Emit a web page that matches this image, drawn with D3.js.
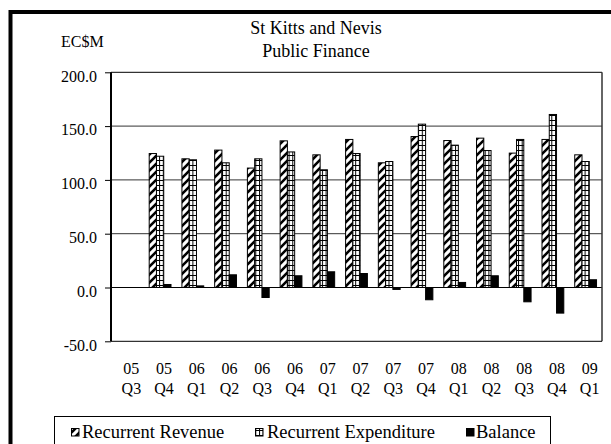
<!DOCTYPE html>
<html><head><meta charset="utf-8">
<script src="https://cdn.jsdelivr.net/npm/d3@7"></script>
<style>body{margin:0;background:#fff}svg{display:block}text{font-family:"Liberation Serif","Times New Roman",serif;fill:#000}</style>
</head><body>
<script>
const categories = ["05 Q3","05 Q4","06 Q1","06 Q2","06 Q3","06 Q4","07 Q1","07 Q2","07 Q3","07 Q4","08 Q1","08 Q2","08 Q3","08 Q4","09 Q1"];
const revenue =     [null,124.5,119.6,127.7,111.0,136.3,123.3,137.6,115.9,140.3,136.6,138.8,124.9,137.6,123.3];
const expenditure = [null,122.0,118.7,115.9,119.6,126.0,109.4,124.5,117.1,151.8,132.3,127.3,137.6,160.8,117.1];
const balance =     [null,2.8,1.5,11.8,-9.3,10.9,14.6,13.0,-1.8,-11.4,4.7,10.9,-13.3,-23.8,7.2];
const yTicks = [-50,0,50,100,150,200];
const seriesNames = ["Recurrent Revenue","Recurrent Expenditure","Balance"];

const W=611,H=444;
const L=111,R=602,T=72.3,B=341.3;
const svg=d3.select("body").append("svg").attr("width",W).attr("height",H);
const defs=svg.append("defs");
const p1=defs.append("pattern").attr("id","diag").attr("patternUnits","userSpaceOnUse").attr("width",8).attr("height",8);
p1.append("rect").attr("width",8).attr("height",8).attr("fill","#fff");
p1.append("path").attr("d","M-2,10 L10,-2 M-2,2 L2,-2 M6,10 L10,6").attr("stroke","#000").attr("stroke-width",2.6);
const p2=defs.append("pattern").attr("id","grid").attr("patternUnits","userSpaceOnUse").attr("width",3.7).attr("height",5);
p2.append("rect").attr("width",3.7).attr("height",5).attr("fill","#fff");
p2.append("path").attr("d","M0.5,0 V5 M0,0.5 H3.7").attr("stroke","#000").attr("stroke-width",1);
const fills=["url(#diag)","url(#grid)","#000"];

// outer frame
svg.append("rect").attr("x",10.5).attr("y",12).attr("width",640).attr("height",460).attr("fill","none").attr("stroke","#000").attr("stroke-width",4);

const x=d3.scaleBand().domain(categories).range([L,R]).padding(0);
const y=d3.scaleLinear().domain([-50,200]).range([B,T]);
const bw=x.bandwidth()*0.222, off=(x.bandwidth()-3*bw)/2;

// gridlines
svg.append("g").selectAll("line").data([50,100,150]).join("line")
 .attr("x1",L).attr("x2",R).attr("y1",d=>y(d)).attr("y2",d=>y(d)).attr("stroke","#333").attr("stroke-width",1);

const all=[revenue,expenditure,balance];
all.forEach((vals,si)=>{
 svg.append("g").selectAll("rect").data(vals.map((v,i)=>({v,c:categories[i]})).filter(d=>d.v!=null)).join("rect")
  .attr("x",d=>x(d.c)+off+si*bw).attr("width",bw)
  .attr("y",d=>y(Math.max(0,d.v))).attr("height",d=>Math.abs(y(d.v)-y(0)))
  .attr("fill",fills[si]).attr("stroke","#000").attr("stroke-width",1);
});
// zero line
svg.append("line").attr("x1",L).attr("x2",R).attr("y1",y(0)).attr("y2",y(0)).attr("stroke","#000");
// plot border
svg.append("line").attr("x1",L).attr("x2",R).attr("y1",T).attr("y2",T).attr("stroke","#000");
svg.append("line").attr("x1",R).attr("x2",R).attr("y1",T).attr("y2",B).attr("stroke","#333").attr("stroke-width",1.5);
svg.append("line").attr("x1",L).attr("x2",R).attr("y1",B).attr("y2",B).attr("stroke","#000");

// y axis
const ya=svg.append("g").attr("transform",`translate(${L},0)`)
 .call(d3.axisLeft(y).tickValues(yTicks).tickSize(6).tickPadding(8).tickFormat(d=>d.toFixed(1)));
ya.attr("font-family",null);
ya.select(".domain").attr("stroke-width",2).attr("d",`M0,${T}V${B}`);
ya.selectAll("text").attr("font-size",16).attr("dy","0.55em");

// x labels
const xl=svg.append("g").selectAll("g").data(categories).join("g")
 .attr("transform",d=>`translate(${x(d)+x.bandwidth()/2+4},0)`);
xl.append("text").attr("y",374).attr("text-anchor","middle").attr("font-size",16).text(d=>d.split(" ")[0]);
xl.append("text").attr("y",394).attr("text-anchor","middle").attr("font-size",16).text(d=>d.split(" ")[1]);

// titles
svg.append("text").attr("x",316).attr("y",34).attr("text-anchor","middle").attr("font-size",18).text("St Kitts and Nevis");
svg.append("text").attr("x",316).attr("y",57).attr("text-anchor","middle").attr("font-size",18).text("Public Finance");
svg.append("text").attr("x",61).attr("y",46.5).attr("font-size",16).text("EC$M");

// legend
svg.append("rect").attr("x",54.5).attr("y",416.5).attr("width",496).attr("height",60).attr("fill","#fff").attr("stroke","#000");
const lx=[71,255,466], tx=[82,267,476];
seriesNames.forEach((n,i)=>{
 svg.append("rect").attr("x",lx[i]+0.5).attr("y",428.5).attr("width",7.5).attr("height",7.5).attr("fill",fills[i]).attr("stroke","#000");
 svg.append("text").attr("x",tx[i]).attr("y",437.5).attr("font-size",18.5).text(n);
});
</script>
</body></html>
